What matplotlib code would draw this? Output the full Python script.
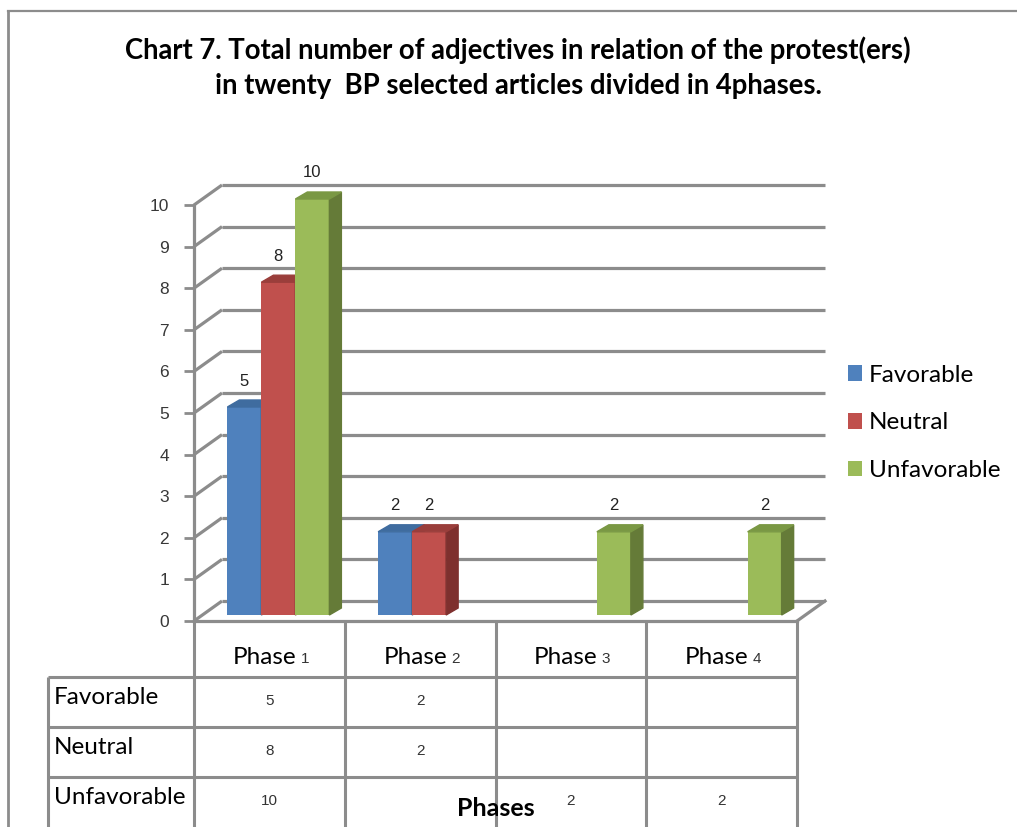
import numpy as np
import matplotlib
matplotlib.use('Agg')
import matplotlib.pyplot as plt
from matplotlib.patches import Polygon
from matplotlib.lines import Line2D

# data
phases = ['Phase 1', 'Phase 2', 'Phase 3', 'Phase 4']
series_names = ['Favorable', 'Neutral', 'Unfavorable']
favorable = [5, 2, 0, 0]
neutral = [8, 2, 0, 0]
unfavorable = [10, 0, 2, 2]
y_ticks = list(range(0, 11))

title1 = 'Chart 7. Total number of adjectives in relation of the protest(ers)'
title2 = 'in twenty  BP selected articles divided in 4phases.'

front = ['#4F81BD', '#C0504D', '#9BBB59']
side = ['#36597F', '#7E302E', '#657B38']
top = ['#3F6C9F', '#9A3E3B', '#7A9844']
grid_c = '#8c8c8c'

W, H = 1017, 827
def fx(x): return x / W
def fy(y): return 1 - y / H

fig = plt.figure(figsize=(W / 100, H / 100), dpi=100)
fig.patch.set_facecolor('white')

# front plane of the plot: x 194..797 px, y 621 (0) .. 205 (10)
ax_l, ax_r, ax_b, ax_t = 194, 797, 621, 205
ax = fig.add_axes([fx(ax_l), fy(ax_b), fx(ax_r - ax_l), (ax_b - ax_t) / H])
ax.set_xlim(0, 4)
ax.set_ylim(0, 10)
for s in ['top', 'right']:
    ax.spines[s].set_visible(False)
ax.spines['left'].set_color(grid_c)
ax.spines['left'].set_linewidth(2.3)
ax.spines['bottom'].set_color(grid_c)
ax.spines['bottom'].set_linewidth(2.3)
ax.set_xticks([])
ax.set_yticks(y_ticks)
ax.tick_params(axis='y', length=7, width=2, color=grid_c, pad=11, labelsize=12.5,
               labelcolor='#383838')
for lab in ax.get_yticklabels():
    lab.set_fontfamily('Liberation Sans')

# 3d wall offsets (data units)
wdx, wdy = 28 / 150.75, 20 / 41.6
for v in y_ticks:
    ax.plot([0, wdx], [v, v + wdy], color=grid_c, lw=2.3, clip_on=False, zorder=1,
            solid_capstyle='butt')
    ax.plot([wdx, 4 + wdx], [v + wdy, v + wdy], color=grid_c, lw=2.3, clip_on=False,
            zorder=1, solid_capstyle='butt')
ax.plot([4, 4 + wdx], [0, wdy], color=grid_c, lw=2.3, clip_on=False, zorder=1)

# bars
bw = 34 / 150.75
bx0 = 9 / 150.75
by0 = 6 / 41.6
ddx, ddy = 12 / 150.75, 7 / 41.6
x = np.arange(len(phases)) + 0.5 + bx0
all_vals = [favorable, neutral, unfavorable]
for j, vals in enumerate(all_vals):
    vals = np.array(vals)
    pos = x + (j - 1) * bw
    mask = vals > 0
    bars = ax.bar(pos[mask], vals[mask], width=bw, bottom=by0, color=front[j],
                  zorder=3 + j, clip_on=False, label=series_names[j])
    for r, v in zip(bars.patches, vals[mask]):
        x0, y0, w, h = r.get_x(), r.get_y(), r.get_width(), r.get_height()
        ax.add_patch(Polygon([(x0 + w, y0), (x0 + w + ddx, y0 + ddy),
                              (x0 + w + ddx, y0 + h + ddy), (x0 + w, y0 + h)],
                             closed=True, color=side[j], zorder=3 + j, clip_on=False))
        ax.add_patch(Polygon([(x0, y0 + h), (x0 + ddx, y0 + h + ddy),
                              (x0 + w + ddx, y0 + h + ddy), (x0 + w, y0 + h)],
                             closed=True, color=top[j], zorder=3 + j, clip_on=False))
        ax.annotate(str(v), (x0 + w / 2, y0 + h), xytext=(0, 26), textcoords='offset pixels',
                    ha='center', va='center', fontsize=12, family='Liberation Sans',
                    color='#222222', annotation_clip=False)

fig.legend(loc='center left', bbox_to_anchor=(fx(826), fy(423)), frameon=False,
           handlelength=0.6, handleheight=0.6, handletextpad=0.25, labelspacing=1.1,
           prop={'family': 'Lato', 'size': 17.5})

# title
fig.text(fx(518), fy(50), title1, ha='center', va='center', fontsize=19.8,
         fontweight='bold', family='Lato')
fig.text(fx(518), fy(86), title2, ha='center', va='center', fontsize=19.8,
         fontweight='bold', family='Lato')

# data table below the plot
col_w = (ax_r - ax_l) / len(phases)
cols = [ax_l + k * col_w for k in range(len(phases) + 1)]
rows = [677, 727, 777]
lk = dict(color=grid_c, lw=2.2, solid_capstyle='butt')
for c in cols:
    fig.add_artist(Line2D([fx(c), fx(c)], [fy(621), fy(827)], **lk))
fig.add_artist(Line2D([fx(48), fx(48)], [fy(rows[0]), fy(827)], **lk))
for r in rows:
    fig.add_artist(Line2D([fx(48), fx(ax_r)], [fy(r), fy(r)], **lk))

for k, ph in enumerate(phases):
    cx = cols[k] + col_w / 2
    word, num = ph.split(' ')
    fig.text(fx(cx + 27), fy(657), word, ha='right', va='center', fontsize=17.5,
             family='Lato')
    fig.text(fx(cx + 31), fy(659), num, ha='left', va='center', fontsize=11,
             family='Liberation Sans', color='#333333')

for i, (name, vals) in enumerate(zip(series_names, all_vals)):
    ry = rows[i] + 22
    fig.text(fx(54), fy(ry - 2), name, ha='left', va='center', fontsize=17.5, family='Lato')
    for k, v in enumerate(vals):
        if v:
            fig.text(fx(cols[k] + col_w / 2), fy(ry + 2), str(v), ha='center', va='center',
                     fontsize=11, family='Liberation Sans', color='#333333')

fig.text(fx(496), fy(809), 'Phases', ha='center', va='center', fontsize=18,
         fontweight='bold', family='Lato')

# chart area border (cropped on right and bottom)
fig.add_artist(Line2D([fx(8), fx(8)], [fy(11), fy(827)], color=grid_c, lw=2))
fig.add_artist(Line2D([fx(8), fx(1017)], [fy(11), fy(11)], color=grid_c, lw=1.6))

plt.savefig('out.png', dpi=100)
